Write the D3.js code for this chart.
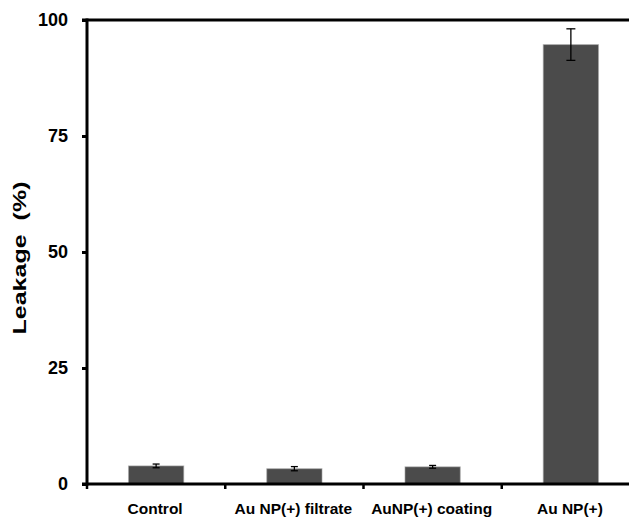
<!DOCTYPE html>
<html>
<head>
<meta charset="utf-8">
<script src="https://cdn.jsdelivr.net/npm/d3@7"></script>
<style>
  html, body { margin: 0; padding: 0; background: #fff; }
  svg { display: block; font-family: "Liberation Sans", Arial, sans-serif; }
</style>
</head>
<body>
<svg id="chart" width="629" height="517"></svg>
<script>
// Leakage per treatment, mean with error
const categories = ["Control", "Au NP(+) filtrate", "AuNP(+) coating", "Au NP(+)"];
const leakage = [3.9, 3.3, 3.7, 94.7];
const leakageErr = [0.4, 0.45, 0.3, 3.4];
const yTicks = [0, 25, 50, 75, 100];

const svg = d3.select("#chart");
const plotLeft = 87, plotTop = 20, plotBottom = 484, plotRightEnd = 640;

const x = d3.scaleBand()
  .domain(categories)
  .range([plotLeft, plotRightEnd])
  .paddingInner(0.6)
  .paddingOuter(0.3);

const y = d3.scaleLinear().domain([0, 100]).range([plotBottom, plotTop]);

// bars
svg.append("g").selectAll("rect")
  .data(categories)
  .join("rect")
  .attr("x", d => x(d))
  .attr("width", x.bandwidth())
  .attr("y", (d, i) => y(leakage[i]))
  .attr("height", (d, i) => y(0) - y(leakage[i]))
  .attr("fill", "#4b4b4b")
  .attr("stroke", "#aaa")
  .attr("stroke-opacity", 0.6)
  .attr("stroke-width", 1);

// error bars
const eg = svg.append("g").attr("stroke", "#000").attr("stroke-width", 1.3);
categories.forEach((c, i) => {
  const cx = x(c) + x.bandwidth() / 2;
  const hi = y(leakage[i] + leakageErr[i]);
  const lo = y(leakage[i] - leakageErr[i]);
  const cap = i === 3 ? 4.5 : 3.5;
  eg.append("line").attr("x1", cx).attr("x2", cx).attr("y1", hi).attr("y2", lo);
  eg.append("line").attr("x1", cx - cap).attr("x2", cx + cap).attr("y1", hi).attr("y2", hi);
  eg.append("line").attr("x1", cx - cap).attr("x2", cx + cap).attr("y1", lo).attr("y2", lo);
});

// y axis
const yAxis = d3.axisLeft(y).tickValues(yTicks).tickSize(5).tickPadding(14);
const gy = svg.append("g").attr("transform", `translate(${plotLeft},0)`).call(yAxis);
gy.select(".domain").remove();
gy.selectAll(".tick line").attr("stroke", "#000").attr("stroke-width", 3);
gy.selectAll(".tick text")
  .attr("font-size", 18).attr("font-weight", "bold").attr("fill", "#000")
  .attr("font-family", "'Liberation Sans', Arial, sans-serif");
svg.append("line").attr("x1", plotLeft).attr("x2", plotLeft)
  .attr("y1", plotTop - 1.5).attr("y2", plotBottom + 1.5)
  .attr("stroke", "#000").attr("stroke-width", 3);

// frame line along the top value
svg.append("line").attr("x1", plotLeft - 5).attr("x2", 629).attr("y1", y(100)).attr("y2", y(100))
  .attr("stroke", "#000").attr("stroke-width", 3);

// x axis baseline
svg.append("line").attr("x1", plotLeft - 5).attr("x2", 629).attr("y1", y(0)).attr("y2", y(0))
  .attr("stroke", "#000").attr("stroke-width", 3);

// category boundary ticks
const bounds = d3.range(categories.length).map(i => plotLeft + i * x.step());
svg.append("g").selectAll("line").data(bounds).join("line")
  .attr("x1", d => d).attr("x2", d => d)
  .attr("y1", y(0)).attr("y2", y(0) + 5)
  .attr("stroke", "#000").attr("stroke-width", 2.5);

// category labels
svg.append("g").selectAll("text").data(categories).join("text")
  .attr("x", d => x(d) + x.bandwidth() / 2 - 1)
  .attr("y", 514)
  .attr("text-anchor", "middle")
  .attr("font-size", 15.5).attr("font-weight", "bold").attr("fill", "#000")
  .text(d => d);

// y axis title
svg.append("text")
  .attr("transform", "translate(26,258) rotate(-90)")
  .attr("text-anchor", "middle")
  .attr("font-size", 19).attr("font-weight", "bold").attr("fill", "#000")
  .attr("textLength", 153).attr("lengthAdjust", "spacingAndGlyphs")
  .style("white-space", "pre")
  .text("Leakage  (%)");
</script>
</body>
</html>
